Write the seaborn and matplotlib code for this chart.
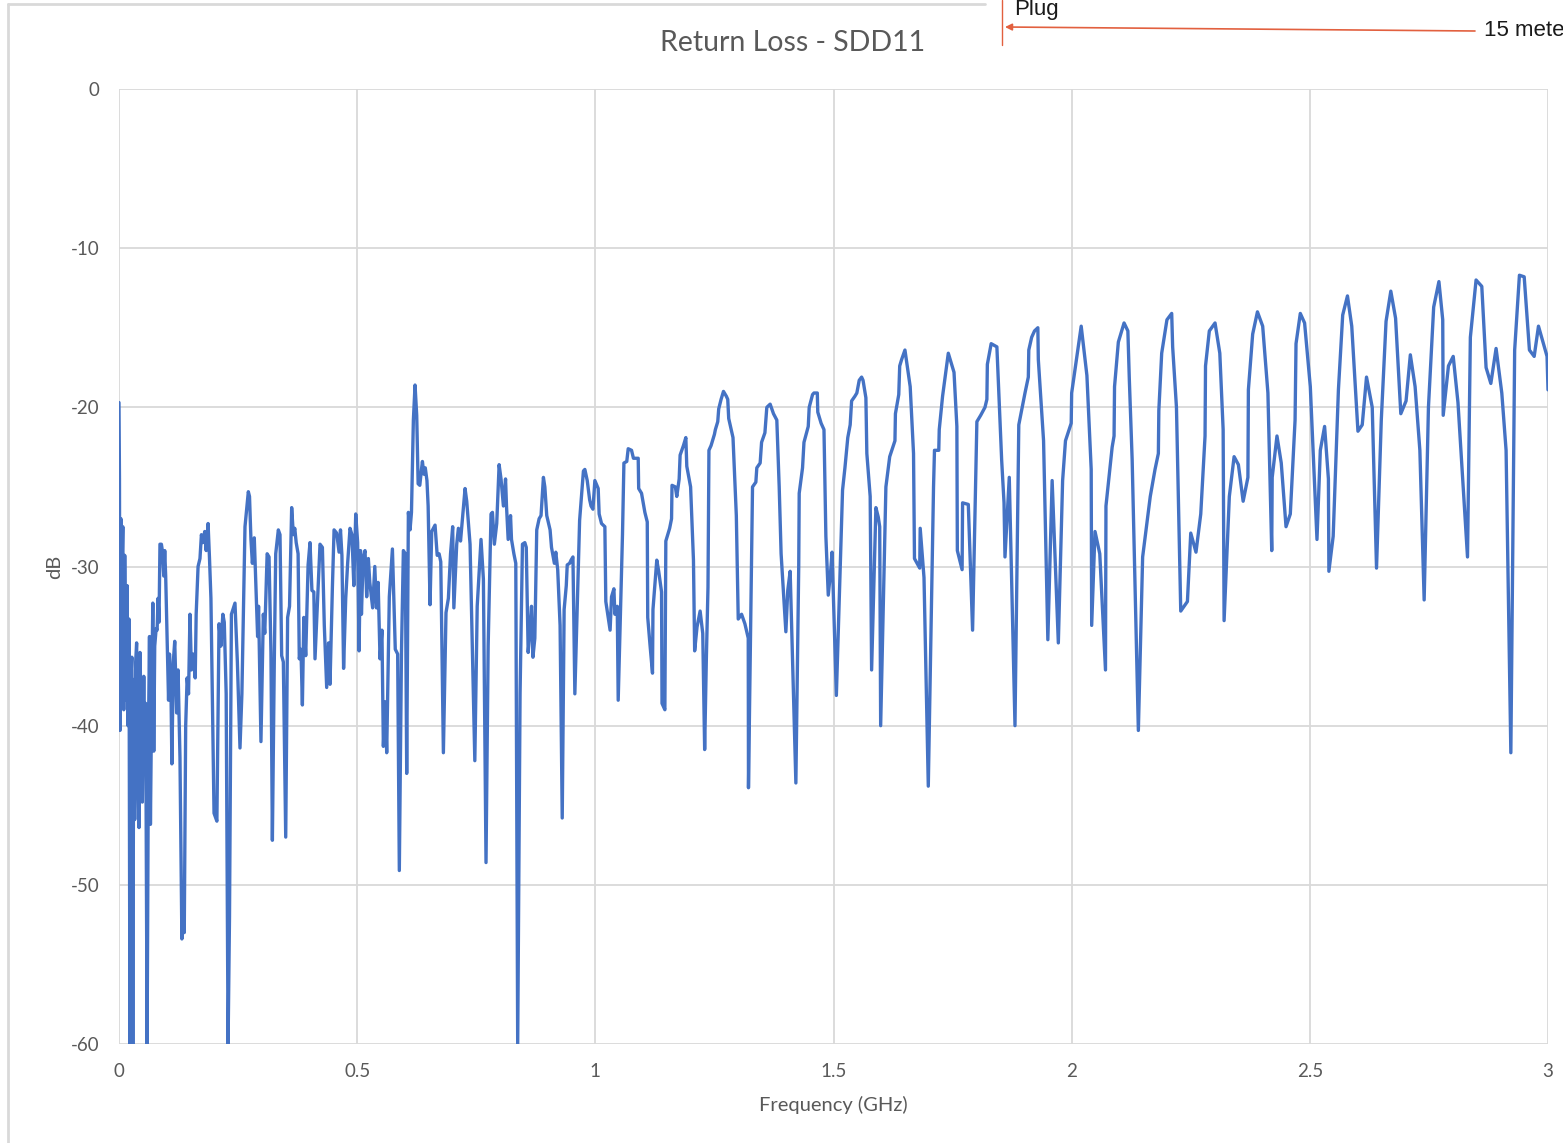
import numpy as np
import pandas as pd
import matplotlib
matplotlib.use("Agg")
import matplotlib.pyplot as plt
import seaborn as sns
from matplotlib.lines import Line2D

# SDD11 return loss trace (GHz / dB)
freq_0 = [0.000, 0.001, 0.002, 0.004, 0.006, 0.008, 0.010, 0.012, 0.015, 0.017,
          0.019, 0.021, 0.023, 0.025, 0.027, 0.029, 0.031, 0.033, 0.035, 0.037,
          0.039, 0.042, 0.044, 0.047, 0.049, 0.052, 0.054, 0.056, 0.059, 0.062,
          0.064, 0.066, 0.069, 0.071, 0.073, 0.075, 0.078, 0.080, 0.082, 0.084,
          0.086, 0.089, 0.091, 0.094, 0.096, 0.098, 0.101, 0.104, 0.106, 0.109,
          0.111, 0.114, 0.117, 0.121, 0.124, 0.128, 0.132, 0.135, 0.137, 0.140,
          0.143, 0.146, 0.149, 0.152, 0.156, 0.160, 0.162, 0.166, 0.170, 0.173,
          0.176, 0.180, 0.183, 0.187, 0.190, 0.193, 0.1995, 0.2055, 0.210, 0.214,
          0.218, 0.221, 0.225, 0.229, 0.232, 0.236, 0.2435, 0.2485, 0.254, 0.258]
db_0 = [-19.7, -24.5, -40.3, -27.0, -30.5, -27.5, -39.0, -29.3, -38.4, -31.2,
        -40.0, -33.3, -60.0, -37.0, -35.7, -60.0, -37.1, -45.9, -36.0, -34.8,
        -42.0, -46.4, -35.4, -40.0, -44.8, -36.9, -42.5, -38.6, -60.0, -40.0,
        -34.4, -46.2, -37.0, -32.3, -41.6, -35.0, -33.9, -34.0, -32.0, -33.5,
        -28.6, -28.6, -29.0, -30.6, -29.0, -30.6, -34.4, -38.4, -35.5, -37.5,
        -42.4, -36.0, -34.7, -39.2, -36.5, -42.0, -53.4, -51.0, -53.0, -40.0,
        -37.0, -38.0, -33.0, -36.5, -35.5, -37.0, -33.0, -30.0, -29.5, -28.0,
        -28.5, -27.8, -29.0, -27.3, -29.5, -32.0, -45.5, -46.0, -33.6, -35.0,
        -33.0, -33.5, -38.0, -60.0, -52.0, -33.0, -32.3, -36.0, -41.4, -38.0]

freq_1 = [0.2645, 0.2715, 0.274, 0.277, 0.280, 0.284, 0.291, 0.293, 0.298, 0.303,
          0.306, 0.311, 0.315, 0.319, 0.322, 0.326, 0.329, 0.3345, 0.338, 0.3415,
          0.345, 0.350, 0.354, 0.358, 0.3625, 0.366, 0.369, 0.372, 0.376, 0.3785,
          0.382, 0.385, 0.388, 0.392, 0.397, 0.401, 0.405, 0.409, 0.4115, 0.417,
          0.422, 0.427, 0.431, 0.436, 0.440, 0.443, 0.448, 0.4515, 0.457, 0.462,
          0.465, 0.468, 0.4715, 0.476, 0.480, 0.485, 0.489, 0.493, 0.497]
db_1 = [-27.5, -25.3, -25.6, -28.3, -29.8, -28.2, -34.4, -32.5, -41.0, -33.0,
        -34.2, -29.2, -29.4, -35.4, -47.2, -36.0, -29.2, -27.7, -28.0, -35.6,
        -36.0, -47.0, -33.2, -32.5, -26.3, -28.0, -27.6, -28.5, -29.2, -35.8,
        -35.2, -38.7, -33.2, -35.6, -29.9, -28.5, -31.5, -31.6, -35.8, -32.0,
        -28.6, -28.8, -33.7, -37.6, -34.8, -37.4, -31.3, -27.7, -27.9, -29.1,
        -27.7, -29.3, -36.4, -32.0, -29.8, -27.6, -28.0, -31.2, -26.7]

freq_2 = [0.501, 0.504, 0.507, 0.509, 0.5125, 0.5165, 0.520, 0.5235, 0.5265, 0.5325,
          0.537, 0.5405, 0.544, 0.548, 0.552, 0.555, 0.559, 0.562, 0.5675, 0.574,
          0.580, 0.585, 0.5885, 0.593, 0.597, 0.601, 0.604, 0.6075, 0.611, 0.614,
          0.618, 0.6215, 0.625, 0.628, 0.6315, 0.635, 0.637, 0.640, 0.643, 0.6465,
          0.649, 0.653, 0.6565, 0.6635, 0.668, 0.672, 0.6755, 0.681, 0.6865, 0.6915,
          0.696, 0.7005, 0.703, 0.709, 0.7125, 0.717, 0.7265, 0.730, 0.737, 0.747,
          0.752, 0.760, 0.765, 0.7705, 0.775, 0.781, 0.784, 0.788, 0.793, 0.798,
          0.802, 0.807, 0.8115, 0.8135, 0.817, 0.822, 0.824, 0.829, 0.833, 0.837,
          0.842, 0.847, 0.852, 0.855, 0.859, 0.862, 0.866, 0.869, 0.873, 0.877,
          0.882, 0.886, 0.891, 0.894, 0.898, 0.905, 0.908, 0.914, 0.917, 0.921,
          0.926, 0.9305, 0.9345, 0.939, 0.941, 0.946, 0.949, 0.953, 0.957, 0.962,
          0.967, 0.975, 0.978, 0.983, 0.988, 0.991, 0.995, 0.999]
db_2 = [-28.5, -35.3, -29.0, -33.0, -29.5, -29.0, -31.9, -29.5, -31.0, -32.6,
        -30.0, -32.6, -31.0, -35.8, -34.0, -41.3, -38.5, -41.7, -31.9, -28.9,
        -35.2, -35.5, -49.1, -35.4, -29.0, -29.2, -43.0, -26.6, -27.7, -26.6,
        -20.8, -18.6, -20.5, -24.8, -24.9, -23.9, -23.4, -24.2, -23.8, -24.6,
        -26.2, -32.4, -27.8, -27.4, -29.3, -29.2, -29.7, -41.7, -32.9, -32.0,
        -29.2, -27.5, -32.6, -28.6, -27.6, -28.4, -25.1, -25.9, -28.6, -42.2,
        -32.5, -28.3, -30.8, -48.6, -35.0, -26.7, -26.6, -28.6, -27.3, -23.6,
        -24.5, -26.2, -24.5, -26.2, -28.3, -26.8, -28.3, -29.2, -29.8, -60.0,
        -38.0, -28.6, -28.5, -28.8, -35.4, -34.3, -32.5, -35.7, -34.5, -27.7,
        -27.0, -26.8, -24.4, -25.0, -26.8, -27.7, -28.8, -29.8, -29.1, -30.2,
        -33.7, -45.8, -32.7, -31.2, -29.9, -29.8, -29.6, -29.4, -38.0, -32.5,
        -27.1, -24.0, -23.9, -24.6, -25.8, -26.2, -26.4, -24.6]

freq_3 = [1.006, 1.008, 1.013, 1.020, 1.022, 1.027, 1.031, 1.034, 1.039, 1.041,
          1.046, 1.048, 1.057, 1.060, 1.066, 1.069, 1.076, 1.080, 1.090, 1.091,
          1.097, 1.104, 1.109, 1.110, 1.115, 1.120, 1.121, 1.129, 1.133, 1.139,
          1.140, 1.146, 1.148, 1.156, 1.160, 1.161, 1.168, 1.171, 1.176, 1.178,
          1.185, 1.190, 1.192, 1.200, 1.206, 1.2085, 1.2135, 1.220, 1.2255, 1.2295,
          1.233, 1.2365, 1.2385, 1.243, 1.250, 1.252, 1.257, 1.259, 1.264, 1.269,
          1.275, 1.278, 1.280, 1.289, 1.296, 1.300, 1.307, 1.314, 1.321, 1.3215,
          1.330, 1.337, 1.339, 1.346, 1.349, 1.356, 1.360, 1.367, 1.374, 1.381,
          1.386, 1.390, 1.400, 1.404, 1.409, 1.421, 1.427, 1.428, 1.435, 1.438,
          1.447, 1.449, 1.456, 1.459, 1.466, 1.467, 1.474, 1.480, 1.484, 1.489,
          1.494, 1.497]
db_3 = [-25.1, -26.7, -27.3, -27.5, -32.2, -33.2, -34.0, -31.9, -31.4, -33.0,
        -32.5, -38.4, -28.0, -23.5, -23.4, -22.6, -22.7, -23.2, -23.2, -25.1,
        -25.4, -26.6, -27.2, -33.2, -35.0, -36.7, -32.7, -29.6, -30.3, -31.6,
        -38.6, -39.0, -28.4, -27.6, -27.0, -24.9, -25.0, -25.6, -24.5, -23.0,
        -22.4, -21.9, -23.7, -25.0, -29.6, -35.3, -33.8, -32.8, -34.2, -41.5,
        -35.9, -31.3, -22.7, -22.4, -21.7, -21.4, -20.9, -20.1, -19.5, -19.0,
        -19.3, -19.5, -20.7, -21.9, -26.8, -33.3, -33.0, -33.6, -34.5, -43.9,
        -25.0, -24.7, -23.8, -23.5, -22.2, -21.6, -20.0, -19.8, -20.4, -20.8,
        -25.0, -29.2, -34.1, -31.5, -30.3, -43.6, -30.0, -25.4, -23.8, -22.2,
        -21.2, -20.0, -19.2, -19.1, -19.1, -20.3, -21.0, -21.4, -28.1, -31.8,
        -30.3, -29.1]

freq_4 = [1.506, 1.519, 1.524, 1.530, 1.535, 1.538, 1.545, 1.549, 1.554, 1.559,
          1.562, 1.568, 1.570, 1.577, 1.580, 1.589, 1.594, 1.597, 1.599, 1.610,
          1.618, 1.629, 1.630, 1.637, 1.639, 1.643, 1.650, 1.661, 1.668, 1.670,
          1.681, 1.682, 1.690, 1.699, 1.710, 1.712, 1.721, 1.722, 1.729, 1.741,
          1.753, 1.759, 1.760, 1.770, 1.771, 1.783, 1.792, 1.801, 1.809, 1.818,
          1.822, 1.823, 1.831, 1.843, 1.853, 1.858, 1.860, 1.869, 1.881, 1.889,
          1.902, 1.909, 1.910, 1.916, 1.922, 1.929, 1.930, 1.941, 1.950, 1.959,
          1.972, 1.981, 1.987, 1.999]
db_4 = [-38.1, -25.2, -23.8, -21.9, -21.1, -19.6, -19.3, -19.1, -18.3, -18.1,
        -18.3, -19.4, -22.9, -25.6, -36.5, -26.3, -26.9, -27.5, -40.0, -25.0,
        -23.1, -22.1, -20.4, -19.2, -17.4, -17.0, -16.4, -18.7, -22.9, -29.5,
        -30.1, -27.6, -30.7, -43.8, -25.0, -22.7, -22.7, -21.4, -19.3, -16.6,
        -17.8, -21.2, -29.0, -30.2, -26.0, -26.1, -34.0, -20.9, -20.5, -20.0,
        -19.5, -17.3, -16.0, -16.2, -23.3, -26.0, -29.4, -24.4, -40.0, -21.1,
        -19.1, -18.1, -16.4, -15.6, -15.2, -15.0, -17.0, -22.1, -34.6, -24.6,
        -34.8, -24.6, -22.1, -21.0]

freq_5 = [2.000, 2.020, 2.032, 2.041, 2.042, 2.049, 2.059, 2.071, 2.072, 2.078,
          2.085, 2.089, 2.090, 2.098, 2.110, 2.118, 2.121, 2.127, 2.140, 2.149,
          2.157, 2.165, 2.175, 2.182, 2.183, 2.189, 2.200, 2.210, 2.212, 2.220,
          2.229, 2.236, 2.243, 2.250, 2.261, 2.271, 2.280, 2.281, 2.289, 2.301,
          2.311, 2.318, 2.320, 2.331, 2.341, 2.350, 2.360, 2.370, 2.371, 2.380,
          2.390, 2.401, 2.412, 2.420, 2.421, 2.431, 2.440, 2.450, 2.459, 2.469,
          2.471, 2.480, 2.489]
db_5 = [-19.1, -14.9, -18.0, -23.9, -33.7, -27.8, -29.2, -36.5, -26.2, -24.5,
        -22.5, -21.8, -18.7, -15.9, -14.7, -15.2, -18.2, -23.3, -40.3, -29.4,
        -27.5, -25.6, -23.9, -22.9, -20.2, -16.6, -14.5, -14.1, -16.2, -20.0,
        -32.8, -32.5, -32.2, -27.9, -29.1, -26.7, -21.8, -17.4, -15.2, -14.7,
        -16.6, -21.4, -33.4, -25.6, -23.1, -23.6, -25.9, -24.4, -18.9, -15.4,
        -14.0, -14.9, -19.1, -29.0, -24.4, -21.8, -23.5, -27.5, -26.7, -20.8,
        -16.0, -14.1, -14.7]

freq_6 = [2.501, 2.515, 2.522, 2.531, 2.539, 2.540, 2.549, 2.560, 2.569, 2.579,
          2.588, 2.601, 2.610, 2.619, 2.631, 2.640, 2.650, 2.660, 2.670, 2.680,
          2.691, 2.702, 2.711, 2.721, 2.731, 2.740, 2.749, 2.760, 2.771, 2.779,
          2.780, 2.791, 2.801, 2.811, 2.818, 2.831, 2.837, 2.849, 2.861, 2.870,
          2.880, 2.891, 2.903, 2.912, 2.922, 2.930, 2.940, 2.950, 2.961, 2.971,
          2.980, 2.998, 3.000]
db_6 = [-18.7, -28.3, -22.7, -21.2, -24.5, -30.3, -28.1, -18.9, -14.2, -13.0,
        -14.9, -21.5, -21.1, -18.1, -20.0, -30.1, -20.8, -14.6, -12.7, -14.4,
        -20.4, -19.6, -16.7, -18.7, -22.7, -32.1, -20.0, -13.7, -12.1, -14.5,
        -20.5, -17.4, -16.8, -19.7, -23.1, -29.4, -15.6, -12.0, -12.4, -17.5,
        -18.5, -16.3, -19.1, -22.7, -41.7, -16.4, -11.7, -11.8, -16.4, -16.8,
        -14.9, -16.8, -18.9]

x_ticks = [0, 0.5, 1, 1.5, 2, 2.5, 3]
x_labels = ["0", "0.5", "1", "1.5", "2", "2.5", "3"]
y_ticks = [0, -10, -20, -30, -40, -50, -60]
y_labels = ["0", "-10", "-20", "-30", "-40", "-50", "-60"]

freqs = [freq_0, freq_1, freq_2, freq_3, freq_4, freq_5, freq_6]
dbs = [db_0, db_1, db_2, db_3, db_4, db_5, db_6]
frame = pd.DataFrame({
    "freq": np.concatenate(freqs),
    "db": np.concatenate(dbs),
})

sns.set_style("white")
plt.rcParams['font.family'] = ['Lato', 'DejaVu Sans']

W, H = 1563, 1143
fig = plt.figure(figsize=(W / 100, H / 100), dpi=100)
ax = fig.add_axes([119 / W, 1 - 1044 / H, (1548 - 119) / W, (1044 - 89) / H])

sns.lineplot(data=frame, x="freq", y="db", estimator=None, sort=False,
             color="#4472C4", linewidth=2.4, ax=ax)

ax.set_xlim(0, 3)
ax.set_ylim(-60, 0)
ax.set_xticks(x_ticks, x_labels)
ax.set_yticks(y_ticks, y_labels)
ax.tick_params(length=0, labelsize=13.5, labelcolor="#595959")
ax.tick_params(axis="y", pad=14)
ax.tick_params(axis="x", pad=14)
ax.grid(True, color="#d9d9d9", linewidth=1.3)
ax.set_axisbelow(True)
for s in ax.spines.values():
    s.set_visible(False)

ax.set_xlabel("Frequency (GHz)", fontsize=14.5, color="#595959", va="center")
ax.set_ylabel("dB", fontsize=14.5, color="#595959", va="center")
ax.xaxis.set_label_coords(0.5, -(1105 - 1044) / (1044 - 89))
ax.yaxis.set_label_coords(-(119 - 55) / (1548 - 119), 0.5)

fig.text(793 / W, 1 - 43 / H, "Return Loss - SDD11", ha="center", va="center",
         fontsize=20.5, color="#595959")

# chart-area border (top and left edges visible)
fig.add_artist(Line2D([8 / W, 985 / W], [1 - 4 / H, 1 - 4 / H],
                      transform=fig.transFigure, color="#d9d9d9", lw=2))
fig.add_artist(Line2D([8 / W, 8 / W], [0, 1 - 4 / H],
                      transform=fig.transFigure, color="#d9d9d9", lw=2))

# overlaid document annotation (its label runs past the right edge, as in the source)
red = "#E2603F"
fig.add_artist(Line2D([1002 / W, 1002 / W], [1 - 45 / H, 1],
                      transform=fig.transFigure, color=red, lw=1))
ax.annotate("", xy=(1005, H - 27), xytext=(1475, H - 31), xycoords="figure pixels",
            textcoords="figure pixels",
            arrowprops=dict(arrowstyle="-|>", color=red, lw=1.2, mutation_scale=10,
                            shrinkA=0, shrinkB=0))
fig.text(1014 / W, 1 - 10 / H, "Plug", ha="left", va="center", fontsize=16,
         color="#1a1a1a", family=["Liberation Sans", "DejaVu Sans"])
fig.text(1484 / W, 1 - 31 / H, "15 meters", ha="left", va="center", fontsize=16,
         color="#1a1a1a", family=["Liberation Sans", "DejaVu Sans"])

fig.savefig("out.png", dpi=100, facecolor="white")
